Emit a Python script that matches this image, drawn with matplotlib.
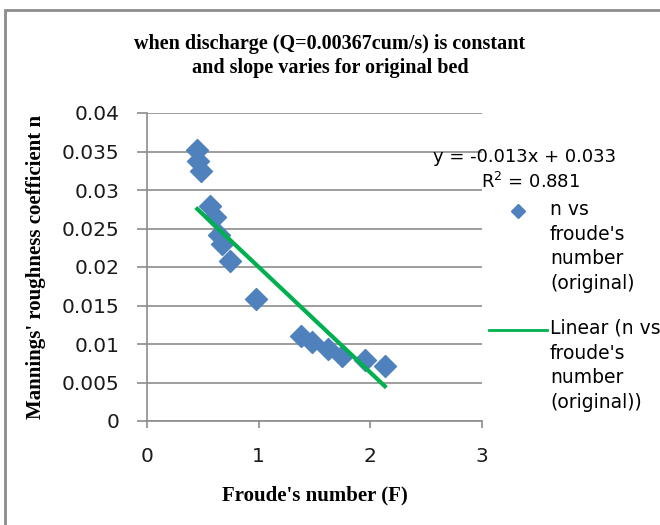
import matplotlib
matplotlib.use('Agg')
import matplotlib.pyplot as plt
import numpy as np
from matplotlib.patches import Rectangle
from matplotlib.lines import Line2D

# data
froude = [0.45, 0.46, 0.48, 0.56, 0.61, 0.645, 0.675, 0.74, 0.98,
          1.38, 1.48, 1.62, 1.75, 1.95, 2.13]
n_vals = [0.0352, 0.0338, 0.0325, 0.0279, 0.0265, 0.0242, 0.0230, 0.0208, 0.0158,
          0.0111, 0.0102, 0.0093, 0.0084, 0.0079, 0.0071]
# trend line as drawn (rounded as -0.013x + 0.033 in the label)
trend_slope = -0.0137
trend_icept = 0.0337
x_ticks = [0, 1, 2, 3]
y_ticks = [0, 0.005, 0.01, 0.015, 0.02, 0.025, 0.03, 0.035, 0.04]
y_ticklabels = ['0', '0.005', '0.01', '0.015', '0.02', '0.025', '0.03', '0.035', '0.04']

sans = 'DejaVu Sans'
serif = 'Liberation Serif'
W, H = 660, 525

fig = plt.figure(figsize=(6.6, 5.25), dpi=100)
ax = fig.add_axes([147/W, 1-421/H, (482-147)/W, (421-113)/H])

# outer chart border
fig.patches.append(Rectangle((5/W, -0.01), 1.0, 1-10/H+0.01, transform=fig.transFigure,
                             fill=False, edgecolor='#8c8c8c', linewidth=2))

ax.scatter(froude, n_vals, marker='D', s=125, color='#4F81BD', zorder=3)
xf = np.array([min(froude), max(froude)])
ax.plot(xf, trend_slope*xf + trend_icept, color='#00B050', linewidth=3, zorder=4)

ax.set_xlim(0, 3)
ax.set_ylim(0, 0.04)
ax.set_xticks(x_ticks)
ax.set_yticks(y_ticks)
ax.set_yticklabels(y_ticklabels)
ax.grid(axis='y', color='#8c8c8c', linewidth=1.2)
ax.set_axisbelow(True)
for s in ['top', 'right']:
    ax.spines[s].set_visible(False)
for s in ['left', 'bottom']:
    ax.spines[s].set_color('#8c8c8c')
    ax.spines[s].set_linewidth(1.2)
ax.tick_params(colors='#8c8c8c', labelcolor='#1a1a1a', labelsize=14.5, width=1.2)
ax.tick_params(axis='y', length=7, pad=13)
ax.tick_params(axis='x', length=5, pad=14)
for lab in ax.get_xticklabels() + ax.get_yticklabels():
    lab.set_family(sans)

ax.set_xlabel("Froude's number (F)", family=serif, fontweight='bold',
              fontsize=15, labelpad=14)
ax.set_ylabel("Mannings' roughness coefficient n", family=serif,
              fontweight='bold', fontsize=15, labelpad=11)
fig.text(0.5, 1-56/H, "when discharge (Q=0.00367cum/s) is constant\nand slope varies for original bed",
         ha='center', va='center', family=serif, fontweight='bold',
         fontsize=14.5, linespacing=1.3)

fig.text(525/W, 1-157/H, "y = -0.013x + 0.033", ha='center', va='center',
         family=sans, fontsize=13)
fig.text(531/W, 1-182/H, "R$^2$ = 0.881", ha='center', va='center',
         family=sans, fontsize=13)

# legend, Excel style: handle lined up with the first text line
fig.add_artist(Line2D([518/W], [1-211/H], marker='D', markersize=7, color='#4F81BD',
                      linestyle='none', transform=fig.transFigure))
fig.text(550/W, 1-200/H, "n vs\nfroude's\nnumber\n(original)", ha='left', va='top',
         family=sans, fontsize=13.5, linespacing=1.38)
fig.add_artist(Line2D([489/W, 547/W], [1-330/H, 1-330/H], color='#00B050', linewidth=2,
                      transform=fig.transFigure))
fig.text(550/W, 1-319/H, "Linear (n vs\nfroude's\nnumber\n(original))", ha='left', va='top',
         family=sans, fontsize=13.5, linespacing=1.38)

fig.savefig('out.png', dpi=100)
